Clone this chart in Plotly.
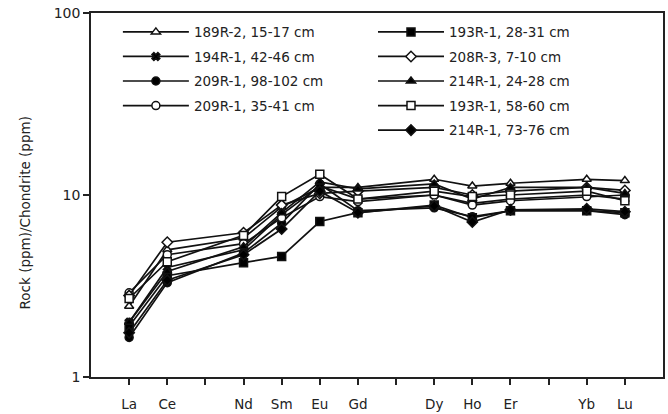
import plotly.graph_objects as go

# REE positions on the axis (Pr, Tb, Tm are plotted as blank ticks)
axis_elements = ["La", "Ce", "Pr", "Nd", "Sm", "Eu", "Gd", "Tb", "Dy", "Ho", "Er", "Tm", "Yb", "Lu"]
axis_labels = ["La", "Ce", "", "Nd", "Sm", "Eu", "Gd", "", "Dy", "Ho", "Er", "", "Yb", "Lu"]
elements = ["La", "Ce", "Nd", "Sm", "Eu", "Gd", "Dy", "Ho", "Er", "Yb", "Lu"]

s_189R2_15_17 = [2.45, 5.0, 5.8, 8.6, 11.0, 11.0, 12.2, 11.2, 11.6, 12.2, 12.0]
s_193R1_28_31 = [1.9, 3.6, 4.25, 4.6, 7.15, 8.0, 8.8, 7.5, 8.2, 8.2, 8.0]
s_194R1_42_46 = [2.0, 4.0, 5.0, 7.8, 11.2, 9.5, 10.0, 9.0, 9.5, 10.0, 9.5]
s_208R3_7_10 = [2.8, 5.5, 6.2, 8.8, 10.2, 10.5, 11.0, 10.0, 10.5, 11.0, 10.6]
s_209R1_98_102 = [1.65, 3.3, 4.8, 7.0, 11.5, 8.2, 8.5, 7.6, 8.2, 8.2, 7.8]
s_214R1_24_28 = [2.0, 3.8, 5.2, 8.0, 11.8, 10.8, 11.5, 9.5, 11.0, 11.0, 10.2]
s_209R1_35_41 = [2.9, 4.7, 5.4, 7.5, 9.8, 9.2, 10.0, 8.8, 9.3, 9.8, 10.0]
s_193R1_58_60 = [2.7, 4.3, 6.0, 9.8, 13.0, 9.5, 10.5, 9.8, 10.0, 10.5, 9.3]
s_214R1_73_76 = [1.75, 3.4, 4.7, 6.5, 10.5, 8.0, 8.7, 7.1, 8.3, 8.4, 8.1]

series = [
    ("189R-2, 15-17 cm", s_189R2_15_17, "triangle-up", "white", "legend"),
    ("194R-1, 42-46 cm", s_194R1_42_46, "x", "black", "legend"),
    ("209R-1, 98-102 cm", s_209R1_98_102, "circle", "black", "legend"),
    ("209R-1, 35-41 cm", s_209R1_35_41, "circle", "white", "legend"),
    ("193R-1, 28-31 cm", s_193R1_28_31, "square", "black", "legend2"),
    ("208R-3, 7-10 cm", s_208R3_7_10, "diamond", "white", "legend2"),
    ("214R-1, 24-28 cm", s_214R1_24_28, "triangle-up", "black", "legend2"),
    ("193R-1, 58-60 cm", s_193R1_58_60, "square", "white", "legend2"),
    ("214R-1, 73-76 cm", s_214R1_73_76, "diamond", "black", "legend2"),
]

fig = go.Figure()
for name, vals, sym, fill, leg in series:
    fig.add_trace(go.Scatter(
        x=elements, y=vals, name=name, mode="lines+markers",
        legendgroup=name,
        line=dict(color="#111", width=1.7),
        marker=dict(symbol=sym, size=8 if sym != "x" else 7, color=fill,
                    line=dict(color="#111", width=1.5)),
        legend=leg,
    ))

font = dict(family="DejaVu Sans", size=13.5, color="#222")
legend_common = dict(
    bgcolor="rgba(0,0,0,0)", borderwidth=0, font=font,
    itemwidth=66, tracegroupgap=4, xanchor="left", yanchor="top",
    xref="paper", yref="paper",
)

fig.update_layout(
    width=668, height=414,
    margin=dict(l=91, r=5, t=13, b=37),
    paper_bgcolor="white", plot_bgcolor="white",
    font=font,
    showlegend=True,
    legend=dict(x=0.047, y=0.99, **legend_common),
    legend2=dict(x=0.493, y=0.99, **legend_common),
    xaxis=dict(
        type="category", categoryorder="array", categoryarray=axis_elements,
        tickmode="array", tickvals=axis_elements, ticktext=axis_labels,
        range=[-1, 14], showgrid=False, zeroline=False, automargin=False,
        showline=True, linecolor="#222", linewidth=1.5, mirror=True,
        ticks="outside", ticklen=6, tickcolor="#222", tickwidth=1.5,
        ticklabelstandoff=8,
        tickfont=dict(family="DejaVu Sans", size=13.5, color="#222"),
    ),
    yaxis=dict(
        type="log", range=[0, 2], tickvals=[1, 10, 100], ticktext=["1", "10", "100"],
        showgrid=False, zeroline=False, automargin=False,
        showline=True, linecolor="#222", linewidth=1.5, mirror=True,
        ticks="outside", ticklen=6, tickcolor="#222", tickwidth=1.5,
        tickfont=dict(family="DejaVu Sans", size=14, color="#222"),
    ),
    annotations=[dict(
        text="Rock (ppm)/Chondrite (ppm)", textangle=-90,
        xref="paper", yref="paper", x=-0.115, y=0.45,
        xanchor="center", yanchor="middle", showarrow=False,
        font=dict(family="DejaVu Sans", size=13.5, color="#222"),
    )],
)

fig.write_html("out.html")
